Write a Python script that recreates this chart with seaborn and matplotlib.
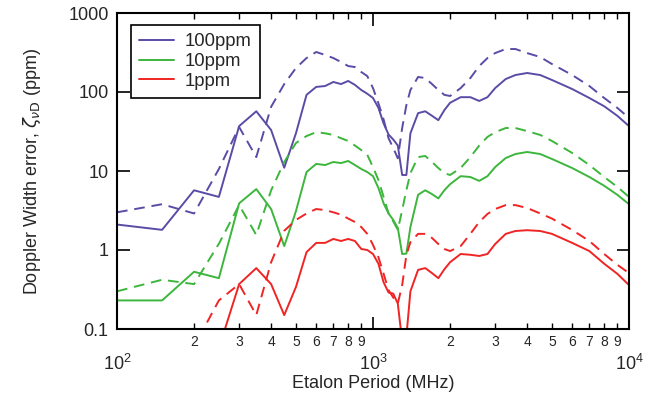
import numpy as np
import pandas as pd
import matplotlib
matplotlib.use("Agg")
import matplotlib.pyplot as plt
import matplotlib.ticker as mticker
import seaborn as sns

# etalon period grid (MHz)
period = [100, 150, 200, 250, 300, 350, 400, 450, 500, 550, 600, 650, 700, 750,
          800, 850, 900, 950, 1000, 1050, 1100, 1150, 1200, 1250, 1300, 1350,
          1400, 1500, 1600, 1700, 1800, 1900, 2000, 2200, 2400, 2600, 2800,
          3000, 3300, 3600, 4000, 4500, 5000, 6000, 7000, 8000, 9000, 10000]

# 100 ppm
p100_solid = [2.1, 1.8, 5.7, 4.7, 37, 57, 33, 11, 30, 92, 116, 119, 134, 126,
              138, 123, 106, 95, 84, 63, 40, 29, 25, 21, 8.9, 8.9,
              30, 54, 57, 50, 44, 59, 73, 86, 86, 77, 86,
              112, 146, 164, 174, 164, 142, 109, 84, 66, 50, 37]
p100_dash = [3.0, 3.8, 2.9, 10.6, 36, 15, 65, 126, 201, 269, 321, 294, 269, 240,
             213, 207, 179, 159, 112, 72, 45, 26, 19.5, 14.5, 35, 68,
             106, 155, 150, 126, 106, 92, 89, 112, 150, 213, 269,
             311, 350, 350, 311, 277, 226, 164, 119, 84, 63, 47]

# 10 ppm
p10_solid = [0.23, 0.23, 0.53, 0.44, 3.9, 5.9, 3.3, 1.12, 3.1, 9.7, 12.3, 11.9, 13, 12.6,
             13.4, 11.9, 10.6, 9.7, 8.6, 6.1, 3.9, 2.9, 2.4, 1.9, 0.89, 0.9,
             1.95, 5.0, 5.7, 5.1, 4.5, 5.7, 6.8, 8.6, 8.4, 7.5, 8.6,
             11.2, 14.6, 16.4, 17.4, 16.4, 14.2, 10.9, 8.4, 6.5, 5.0, 3.8]
p10_dash = [0.30, 0.42, 0.37, 1.2, 3.7, 1.55, 5.7, 13, 22.6, 27.7, 31, 30, 28.6, 26,
            24, 21, 18.4, 16, 11.2, 7.7, 4.7, 2.9, 2.3, 1.8, 3.2, 5.7,
            9.4, 15, 15.5, 13, 10.9, 9.4, 8.9, 10.9, 15, 21, 27,
            31, 35, 35, 32, 28.6, 24, 16.9, 11.9, 8.4, 6.3, 4.7]

# 1 ppm
p1_solid = [0.02, 0.02, 0.02, 0.057, 0.37, 0.59, 0.37, 0.15, 0.34, 0.94, 1.23, 1.23, 1.38, 1.3,
            1.38, 1.3, 1.03, 1.0, 0.89, 0.67, 0.39, 0.29, 0.28, 0.21, 0.07, 0.08,
            0.3, 0.56, 0.59, 0.51, 0.44, 0.57, 0.70, 0.89, 0.87, 0.84, 0.89,
            1.19, 1.6, 1.74, 1.78, 1.74, 1.6, 1.23, 0.97, 0.67, 0.50, 0.36]
p1_dash = [0.05, 0.05, 0.06, 0.23, 0.37, 0.15, 0.70, 1.75, 2.4, 2.9, 3.3, 3.2, 3.0, 2.8,
           2.5, 2.26, 1.95, 1.6, 1.16, 0.81, 0.50, 0.31, 0.25, 0.21, 0.36, 0.86,
           1.26, 1.6, 1.6, 1.42, 1.19, 1.03, 0.97, 1.12, 1.6, 2.26, 2.86,
           3.3, 3.7, 3.7, 3.4, 2.9, 2.5, 1.79, 1.3, 0.89, 0.65, 0.51]

labels = ["100ppm", "10ppm", "1ppm"]
colors = ["#5C4BA6", "#3CB63C", "#F02424"]
solids = [p100_solid, p10_solid, p1_solid]
dashes = [p100_dash, p10_dash, p1_dash]

sns.set_theme(style="ticks")
plt.rcParams['font.family'] = ['Liberation Sans', 'DejaVu Sans']

fig = plt.figure(figsize=(6.51, 3.99), dpi=100)
ax = fig.add_axes([117/651, 1-329/399, 512/651, 316/399])
ax.set_xscale("log")
ax.set_yscale("log")

for lab, col, ys, yd in zip(labels, colors, solids, dashes):
    df = pd.DataFrame({"period": period, "solid": ys, "dash": yd})
    sns.lineplot(data=df, x="period", y="solid", color=col, lw=1.4,
                 ax=ax, label=lab, legend=False)
    sns.lineplot(data=df, x="period", y="dash", color=col, lw=1.4,
                 linestyle=(0, (5.5, 3.5)), ax=ax, legend=False)

ax.set_xlim(100, 10000)
ax.set_ylim(0.1, 1000)

# ticks
ax.xaxis.set_major_locator(mticker.LogLocator(base=10, numticks=10))
ax.xaxis.set_minor_locator(mticker.LogLocator(base=10, subs=range(2, 10), numticks=20))
ax.xaxis.set_minor_formatter(mticker.FuncFormatter(
    lambda v, p: "%d" % round(v / 10**np.floor(np.log10(v) + 1e-9))))
ax.yaxis.set_major_locator(mticker.FixedLocator([0.1, 1, 10, 100, 1000]))
ax.yaxis.set_major_formatter(mticker.FixedFormatter(["0.1", "1", "10", "100", "1000"]))
ax.yaxis.set_minor_locator(mticker.NullLocator())

ax.tick_params(which="both", direction="in", top=True, right=True, color="black")
ax.tick_params(which="major", length=9, width=1.2)
ax.tick_params(which="minor", length=4, width=1.0)
ax.tick_params(axis="x", which="major", pad=18, labelsize=13)
ax.tick_params(axis="x", which="minor", pad=4, labelsize=10)
ax.tick_params(axis="y", which="major", pad=6, labelsize=13)

for s in ax.spines.values():
    s.set_linewidth(1.5)
    s.set_color("black")

ax.set_xlabel("Etalon Period (MHz)", fontsize=13, labelpad=1)
ax.set_ylabel(r"Doppler Width error, $\zeta_{\nu\mathrm{D}}$ (ppm)", fontsize=13, labelpad=18)

leg = ax.legend(loc="upper left", bbox_to_anchor=(0.027, 0.962), borderaxespad=0,
                fontsize=13.3, handlelength=1.9, handletextpad=0.55, labelspacing=0.15,
                fancybox=False, framealpha=1, edgecolor="black", borderpad=0.45)
leg.get_frame().set_linewidth(1.2)

plt.savefig("out.png", dpi=100)
